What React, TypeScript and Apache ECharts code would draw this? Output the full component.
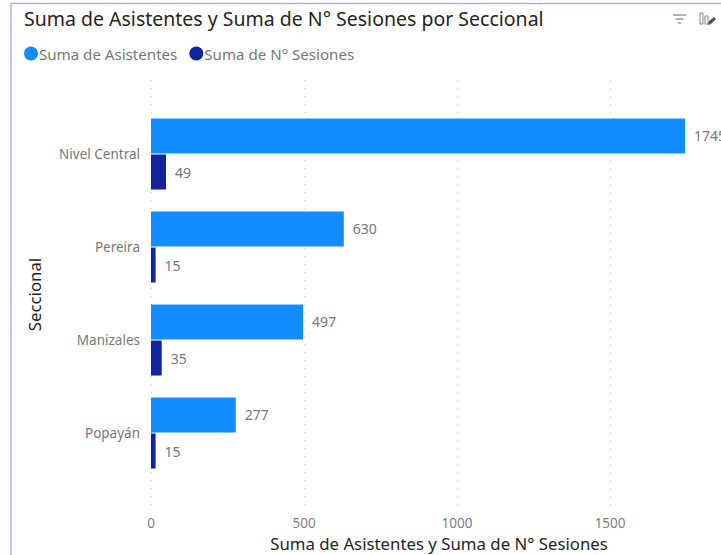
import React, { useEffect, useRef } from "react";
import * as echarts from "echarts";

const categories = ["Nivel Central", "Pereira", "Manizales", "Popayán"];
const asistentes = [1745, 630, 497, 277];
const sesiones = [49, 15, 35, 15];
const FONT = "'Noto Sans', sans-serif";

export default function App() {
  const ref = useRef<HTMLDivElement>(null);
  useEffect(() => {
    const chart = echarts.init(ref.current!, undefined, { renderer: "svg" });
    const border = "#9dbde0";
    const iconStroke = { stroke: "#666", lineWidth: 1 };
    chart.setOption({
      animation: false,
      backgroundColor: "#fff",
      textStyle: { fontFamily: FONT },
      title: {
        text: "Suma de Asistentes y Suma de N° Sesiones por Seccional",
        left: 24,
        top: 8,
        padding: 0,
        textStyle: { fontFamily: FONT, fontSize: 19.5, fontWeight: "normal", color: "#252423" },
      },
      legend: {
        left: 24,
        top: 46,
        padding: 0,
        icon: "circle",
        itemWidth: 14,
        itemHeight: 14,
        itemGap: 12,
        textStyle: { fontFamily: FONT, fontSize: 15.1, color: "#777", padding: [0, 0, 0, -4] },
        data: ["Suma de Asistentes", "Suma de N° Sesiones"],
      },
      grid: [
        { left: 151, top: 107.5, width: 576, height: 372, outerBoundsMode: "none" },
        { left: 151, top: 80, width: 576, height: 429, outerBoundsMode: "none" },
      ],
      xAxis: [
        { type: "value", gridIndex: 0, min: 0, max: 1882, interval: 500, show: false },
        {
          type: "value",
          gridIndex: 1,
          min: 0,
          max: 1882,
          interval: 500,
          axisLine: { show: false },
          axisTick: { show: false },
          axisLabel: {
            showMaxLabel: false,
            color: "#808080",
            fontSize: 13.5,
            margin: 7,
            fontFamily: FONT,
            formatter: (v: number) => String(v),
          },
          splitLine: { show: true, lineStyle: { color: "#c8c8c8", width: 1, type: [1, 7] } },
          name: "Suma de Asistentes y Suma de N° Sesiones",
          nameLocation: "middle",
          nameGap: 26,
          nameTextStyle: { color: "#252423", fontSize: 16.8, fontFamily: FONT },
        },
      ],
      yAxis: [
        {
          type: "category",
          gridIndex: 0,
          data: categories,
          inverse: true,
          axisLine: { show: false },
          axisTick: { show: false },
          axisLabel: { color: "#777", fontSize: 13.5, margin: 11, fontFamily: FONT },
        },
        {
          type: "category",
          gridIndex: 1,
          data: categories,
          inverse: true,
          axisLine: { show: false },
          axisTick: { show: false },
          axisLabel: { show: false },
          name: "Seccional",
          nameLocation: "middle",
          nameGap: 108,
          nameTextStyle: { color: "#252423", fontSize: 16.8, fontFamily: FONT },
        },
      ],
      series: [
        {
          name: "Suma de Asistentes",
          type: "bar",
          xAxisIndex: 0,
          yAxisIndex: 0,
          data: asistentes,
          barWidth: 35,
          barGap: "3%",
          itemStyle: { color: "#118DFF" },
          label: { show: true, position: "right", distance: 9, color: "#777", fontSize: 14, fontFamily: FONT },
        },
        {
          name: "Suma de N° Sesiones",
          type: "bar",
          xAxisIndex: 0,
          yAxisIndex: 0,
          data: sesiones,
          barWidth: 35,
          barGap: "3%",
          itemStyle: { color: "#12239E" },
          label: { show: true, position: "right", distance: 9, color: "#777", fontSize: 14, fontFamily: FONT },
        },
      ],
      graphic: [
        { type: "line", silent: true, shape: { x1: 11, y1: 3.5, x2: 721, y2: 3.5 }, style: { stroke: border, lineWidth: 1.5 } },
        { type: "line", silent: true, shape: { x1: 11, y1: 3, x2: 11, y2: 555 }, style: { stroke: border, lineWidth: 1.5 } },
        { type: "line", silent: true, shape: { x1: 673, y1: 15, x2: 686, y2: 15 }, style: iconStroke },
        { type: "line", silent: true, shape: { x1: 675.5, y1: 19, x2: 683.5, y2: 19 }, style: iconStroke },
        { type: "line", silent: true, shape: { x1: 678, y1: 23, x2: 681, y2: 23 }, style: iconStroke },
        { type: "rect", silent: true, shape: { x: 700, y: 13, width: 3, height: 11 }, style: { fill: "none", stroke: "#888", lineWidth: 1 } },
        { type: "rect", silent: true, shape: { x: 705, y: 16, width: 3, height: 8 }, style: { fill: "none", stroke: "#888", lineWidth: 1 } },
        { type: "polygon", silent: true, shape: { points: [[708, 25], [709, 21], [714, 17], [716, 19], [711, 24]] }, style: { fill: "#555" } },
      ],
    });
    return () => chart.dispose();
  }, []);
  return <div ref={ref} style={{ position: "absolute", left: 0, top: 0, width: 721, height: 555 }} />;
}
